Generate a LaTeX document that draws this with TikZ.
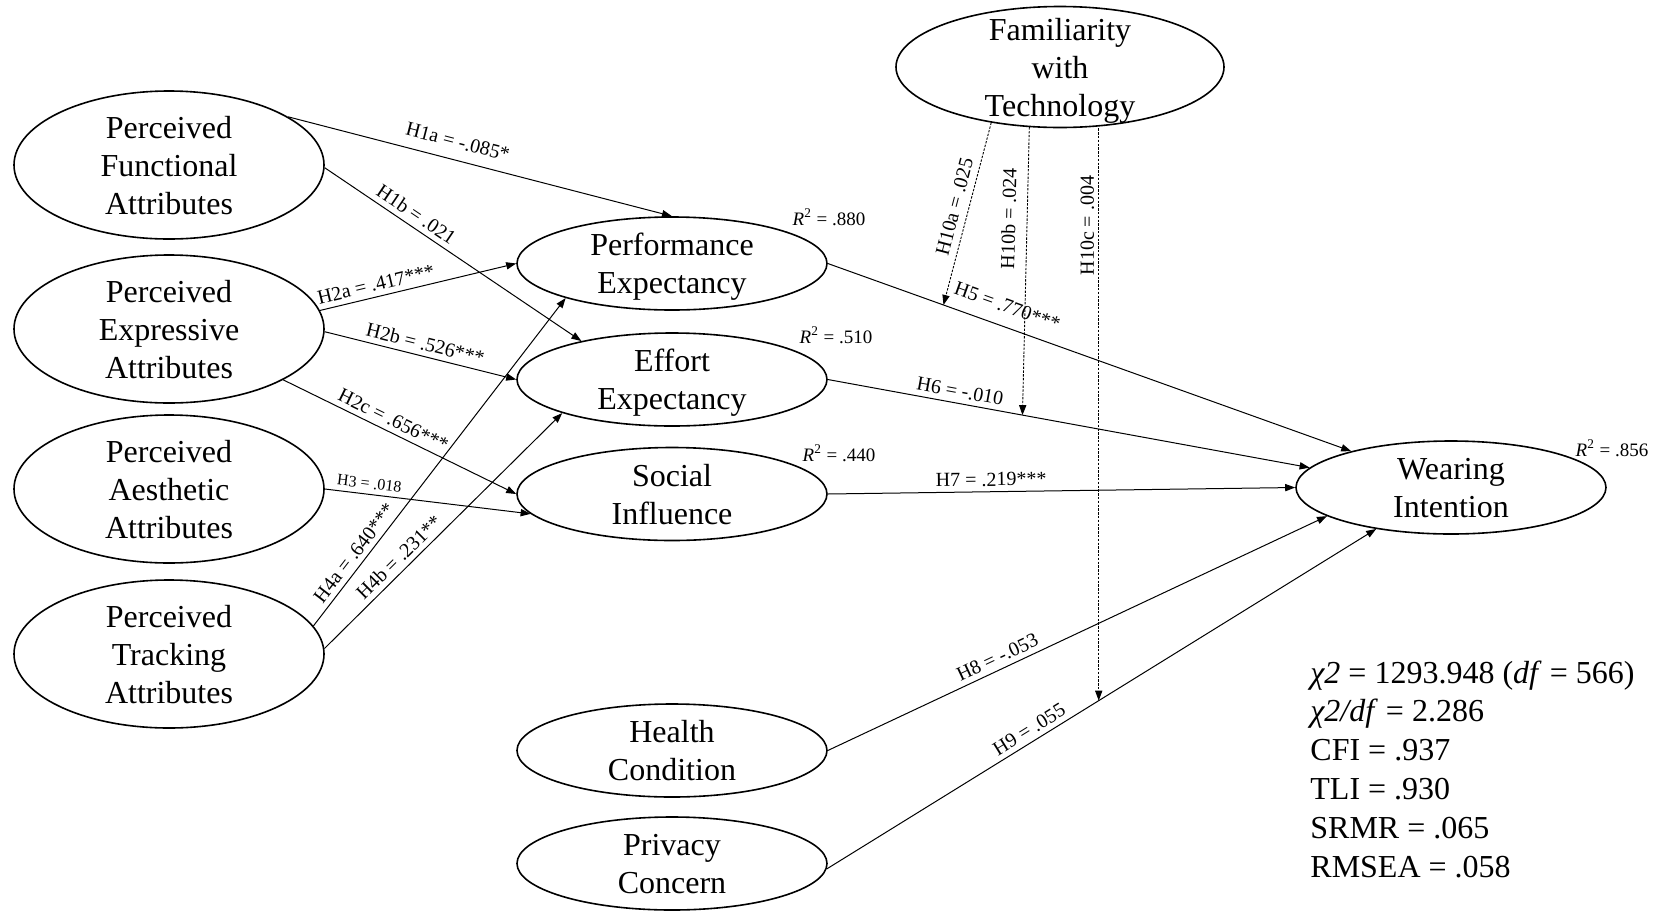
\documentclass[tikz,border=0pt]{standalone}
\usepackage{fontspec}
\setmainfont{Liberation Serif}
\usetikzlibrary{shapes.geometric,arrows.meta}
\begin{document}
\begin{tikzpicture}[x=0.5pt,y=-0.5pt,
  lat/.style={draw, ellipse, line width=0.8pt, inner xsep=0pt, inner ysep=-8pt, align=center, text depth=0pt, font=\fontsize{16}{19}\selectfont},
  bigell/.style={lat, minimum width=155pt, minimum height=74pt},
  midell/.style={lat, minimum width=155pt, minimum height=46.5pt},
  hyp/.style={line width=0.5pt, -{Triangle[length=5pt,width=3.6pt]}},
  modpath/.style={line width=0.45pt, dash pattern=on 1.2pt off 0.7pt, -{Triangle[length=5pt,width=3.6pt]}},
  lbltext/.style={font=\fontsize{10}{12}\selectfont, inner sep=0.5pt},
  lbl/.style={lbltext, sloped, above=2pt},
  rsq/.style={font=\fontsize{9.5}{11}\selectfont, inner sep=0pt},
  gof/.style={font=\fontsize{16}{19}\selectfont, anchor=base west, inner sep=0pt},
]
\useasboundingbox (0,0) rectangle (1661,911);

% latent variables
\node[bigell] (PFA) at (169,165) {Perceived\\Functional\\Attributes};
\node[bigell] (PEA) at (169,329) {Perceived\\Expressive\\Attributes};
\node[bigell] (PAA) at (169,489) {Perceived\\Aesthetic\\Attributes};
\node[bigell] (PTA) at (169,654) {Perceived\\Tracking\\Attributes};
\node[midell] (PE) at (672,263.5) {Performance\\Expectancy};
\node[midell] (EE) at (672,379.5) {Effort\\Expectancy};
\node[midell] (SI) at (672,494) {Social\\Influence};
\node[midell] (HC) at (672,750.5) {Health\\Condition};
\node[midell] (PC) at (672,863.5) {Privacy\\Concern};
\node[midell] (WI) at (1451,487.5) {Wearing\\Intention};
\node[lat, minimum width=164pt, minimum height=60.5pt] (FT) at (1060,67) {Familiarity\\with\\Technology};

% structural paths
\draw[hyp] (PFA.22) -- node[lbl, pos=0.43, above=3pt] (l1a) {H1a = -.085*} (PE.north);
\draw[hyp] (PFA.-1) -- node[lbl, pos=0.33] (l1b) {H1b = .021} (EE.157);
\draw[hyp] (PEA.7) -- node[lbl, pos=0.30] (l2a) {H2a = .417***} (PE.west);
\draw[hyp] (PEA.-1) -- node[lbl, pos=0.51] (l2b) {H2b = .526***} (EE.west);
\draw[hyp] (PEA.-24) -- node[lbl, pos=0.45] (l2c) {H2c = .656***} (SI.west);
\draw[hyp] (PAA.east) -- node[lbl, pos=0.21, font=\fontsize{8}{10}\selectfont] (l3) {H3 = .018} (SI.188);
\draw[hyp] (PTA.11) -- node[lbl, pos=0.2] (l4a) {H4a = .640***} (PE.198);
\draw[hyp] (PTA.2) -- node[lbl, pos=0.35] (l4b) {H4b = .231**} (EE.197);
\draw[hyp] (PE.east) -- node[lbl, pos=0.33, above=4pt] (l5) {H5 = .770***} coordinate[pos=0.221] (m5) (WI.160);
\draw[hyp] (EE.east) -- node[lbl, pos=0.27] (l6) {H6 = -.010} coordinate[pos=0.404] (m6) (WI.172);
\draw[hyp] (SI.east) -- node[lbl, pos=0.35] (l7) {H7 = .219***} (WI.west);
\draw[hyp] (HC.east) -- node[lbl, pos=0.35] (l8) {H8 = -.053} (WI.193);
\draw[hyp] (PC.-2) -- node[lbl, pos=0.38] (l9) {H9 = .055} coordinate[pos=0.495] (m9) (WI.209);

% moderation paths
\draw[modpath] (FT.219) -- node[lbl, pos=0.48, above=1pt] (l10a) {H10a = .025} (m5);
\draw[modpath] (FT.243) -- node[lbl, pos=0.32, above=3pt] (l10b) {H10b = .024} (m6);
\coordinate (t10c) at (m9 |- FT.south);
\draw[modpath] (t10c) -- node[lbltext, pos=0.17, rotate=90, anchor=south, inner sep=2pt] (l10c) {H10c = .004} (m9);

% R squared
\node[rsq] (r2pe) at (829,217) {\textit{R}\textsuperscript{2} = .880};
\node[rsq] (r2ee) at (836,335) {\textit{R}\textsuperscript{2} = .510};
\node[rsq] (r2si) at (839,453) {\textit{R}\textsuperscript{2} = .440};
\node[rsq] (r2wi) at (1612,448) {\textit{R}\textsuperscript{2} = .856};

% fit indices
\node[gof] (g1) at (1310,683) {\textit{χ2} = 1293.948 (\textit{df} = 566)};
\node[gof] (g2) at (1310,721.8) {\textit{χ2/df} = 2.286};
\node[gof] (g3) at (1310,760.6) {CFI = .937};
\node[gof] (g4) at (1310,799.4) {TLI = .930};
\node[gof] (g5) at (1310,838.2) {SRMR = .065};
\node[gof] (g6) at (1310,877) {RMSEA = .058};
\end{tikzpicture}
\end{document}
